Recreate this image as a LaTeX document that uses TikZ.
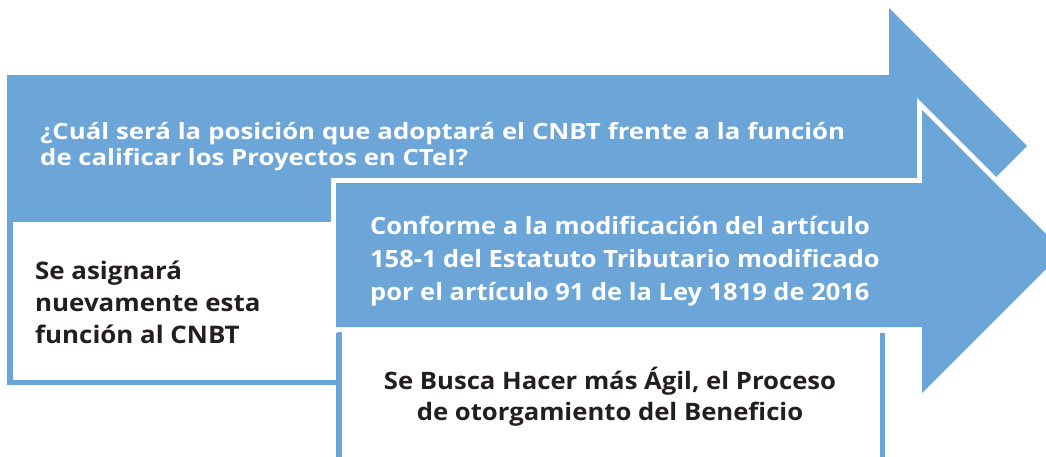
\documentclass[tikz,border=0pt]{standalone}
\usepackage{fontspec}
\setmainfont{Open Sans}[FakeStretch=1.07]
\newfontfamily\widefont{Open Sans}[FakeStretch=1.15]
\definecolor{arrowblue}{RGB}{108,165,216}
\definecolor{darktext}{RGB}{35,31,32}
\begin{document}
\begin{tikzpicture}[x=1pt,y=-1pt,
  bluetext/.style={text=white,inner sep=0pt,align=left},
  darkbox/.style={text=darktext,inner sep=0pt},
  boxline/.style={draw=arrowblue,line width=5.5pt}]
\useasboundingbox (0,0) rectangle (1046,456);
\clip (0,0) rectangle (1046,456);
% first box
\path[boxline,fill=white] (9.75,219.5) rectangle (339.5,382.25);
% first arrow
\fill[arrowblue] (7,75) -- (889,75) -- (889,8) -- (1027,146) -- (889,284) -- (889,217) -- (7,217) -- cycle;
% second box
\fill[white] (336,333) rectangle (885,470);
\draw[boxline] (339,333) -- (339,470);
\draw[boxline] (882.5,333) -- (882.5,470);
% second arrow with white outline
\draw[white,line width=10pt,line join=miter,fill=white] (336,183) -- (922,183) -- (922,110) -- (1063.5,251.5) -- (922,393) -- (922,327) -- (336,327) -- cycle;
\fill[arrowblue] (336,183) -- (922,183) -- (922,110) -- (1063.5,251.5) -- (922,393) -- (922,327) -- (336,327) -- cycle;
% texts
\node[bluetext,text width=805pt,align=justify,anchor=base west,font=\widefont\bfseries\fontsize{22.4}{26.5}\selectfont] (q1) at (40,139)
  {¿Cuál será la posición que adoptará el CNBT frente a la función\linebreak de calificar los Proyectos en CTeI?};
\node[bluetext,anchor=base west,font=\bfseries\fontsize{23.8}{33}\selectfont] (q2) at (370,300)
  {Conforme a la modificación del artículo\\158-1 del Estatuto Tributario modificado\\por el artículo 91 de la Ley 1819 de 2016};
\node[darkbox,align=left,anchor=base west,font=\bfseries\fontsize{24.2}{32}\selectfont] (a1) at (35,343)
  {Se asignará\\nuevamente esta\\función al CNBT};
\node[darkbox,align=center,anchor=base,font=\bfseries\fontsize{24}{31}\selectfont] (a2) at (610,420)
  {Se Busca Hacer más Ágil, el Proceso\\de otorgamiento del Beneficio};
\end{tikzpicture}
\end{document}
